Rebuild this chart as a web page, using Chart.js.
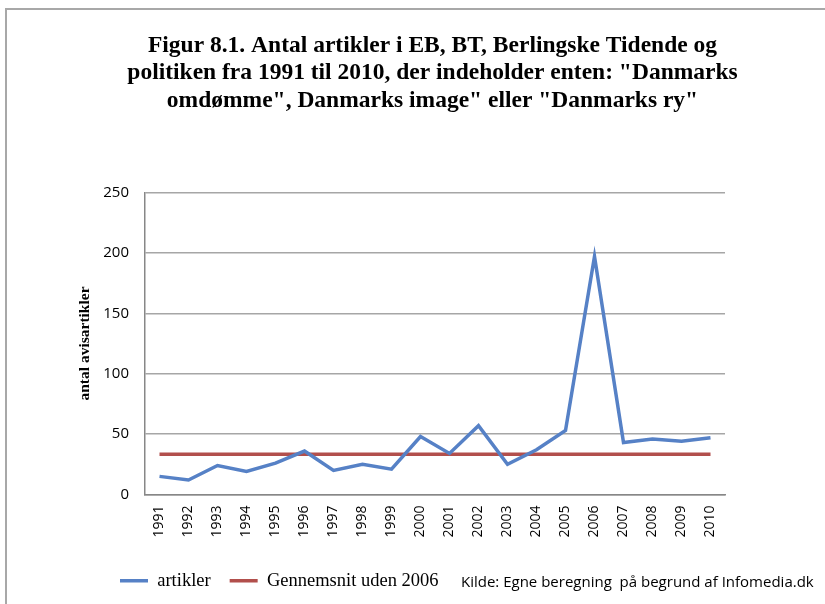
<!DOCTYPE html>
<html>
<head>
<meta charset="utf-8">
<script src="https://cdn.jsdelivr.net/npm/chart.js@4.4.1/dist/chart.umd.min.js"></script>
<style>
  body { margin: 0; background: #fff; }
  #wrap { position: relative; width: 825px; height: 604px; overflow: hidden; }
  #frame { position: absolute; left: 5px; top: 8px; width: 900px; height: 700px;
           border-top: 2px solid #a8a8a8; border-left: 2px solid #a8a8a8; }
  #kilde { position: absolute; left: 461px; top: 571px; font: 15px "Open Sans", sans-serif;
           color: #000; white-space: pre; }
</style>
</head>
<body>
<div id="wrap">
  <div id="frame"></div>
  <canvas id="chart" width="825" height="604"></canvas>
  <div id="kilde">Kilde: Egne beregning  på begrund af Infomedia.dk</div>
</div>
<script>
const years = ['1991', '1992', '1993', '1994', '1995', '1996', '1997', '1998', '1999', '2000',
  '2001', '2002', '2003', '2004', '2005', '2006', '2007', '2008', '2009', '2010'];
const artikler = [15, 12, 24, 19, 26, 36, 20, 25, 21, 48, 34, 57, 25, 37, 53, 197, 43, 46, 44, 47];
const gennemsnit = [33.3, 33.3, 33.3, 33.3, 33.3, 33.3, 33.3, 33.3, 33.3, 33.3,
  33.3, 33.3, 33.3, 33.3, 33.3, 33.3, 33.3, 33.3, 33.3, 33.3];
const yTicks = [0, 50, 100, 150, 200, 250];
const titleLines = [
  'Figur 8.1. Antal artikler i EB, BT, Berlingske Tidende og',
  'politiken fra 1991 til 2010, der indeholder enten: "Danmarks',
  'omdømme", Danmarks image" eller "Danmarks ry"'
];

const serif = "'Liberation Serif', 'Times New Roman', serif";
const sans = "'Open Sans', sans-serif";

// title and legend sit off-centre in the original, nudge them after layout
const nudge = {
  id: 'nudge',
  afterLayout(chart) {
    chart.titleBlock.left += 60;
    chart.titleBlock.right += 60;
    chart.legend.left += 81;
    chart.legend.right += 81;
  }
};

new Chart(document.getElementById('chart').getContext('2d'), {
  type: 'line',
  data: {
    labels: years,
    datasets: [
      { label: 'artikler', data: artikler, borderColor: '#5681c6', backgroundColor: '#5681c6',
        borderWidth: 3.5, pointRadius: 0, tension: 0 },
      { label: 'Gennemsnit uden 2006', data: gennemsnit, borderColor: '#b24f4c', backgroundColor: '#b24f4c',
        borderWidth: 3.5, pointRadius: 0, tension: 0 }
    ]
  },
  options: {
    responsive: false,
    animation: false,
    layout: { padding: { left: 20, right: 100, top: 32, bottom: 4 } },
    plugins: {
      title: {
        display: true,
        text: titleLines,
        color: '#000',
        font: { family: serif, size: 23.5, weight: 'bold', lineHeight: 1.17 },
        padding: { top: 0, bottom: 78 }
      },
      legend: {
        position: 'bottom',
        align: 'start',
        labels: {
          usePointStyle: true,
          pointStyle: 'line',
          pointStyleWidth: 28,
          color: '#000',
          font: { family: serif, size: 18.5 },
          padding: 19
        }
      },
      tooltip: { enabled: false }
    },
    scales: {
      x: {
        offset: true,
        afterFit: (scale) => { scale.height = 58; },
        grid: { display: false, drawTicks: false },
        border: { color: '#878787', width: 1.5 },
        ticks: { minRotation: 90, maxRotation: 90, color: '#000', font: { family: sans, size: 14 }, padding: 11 }
      },
      y: {
        min: 0,
        max: 250,
        afterBuildTicks: (scale) => { scale.ticks = yTicks.map(v => ({ value: v })); },
        afterFit: (scale) => { scale.width = 125; },
        grid: { color: '#a6a6a6', lineWidth: 1.5, drawTicks: false },
        border: { color: '#878787', width: 1.5 },
        ticks: { color: '#000', font: { family: sans, size: 15 }, padding: 16 },
        title: { display: true, text: 'antal avisartikler', color: '#000',
                 font: { family: serif, size: 15.5, weight: 'bold' }, padding: { top: 56, bottom: 0 } }
      }
    }
  },
  plugins: [nudge]
});
</script>
</body>
</html>
